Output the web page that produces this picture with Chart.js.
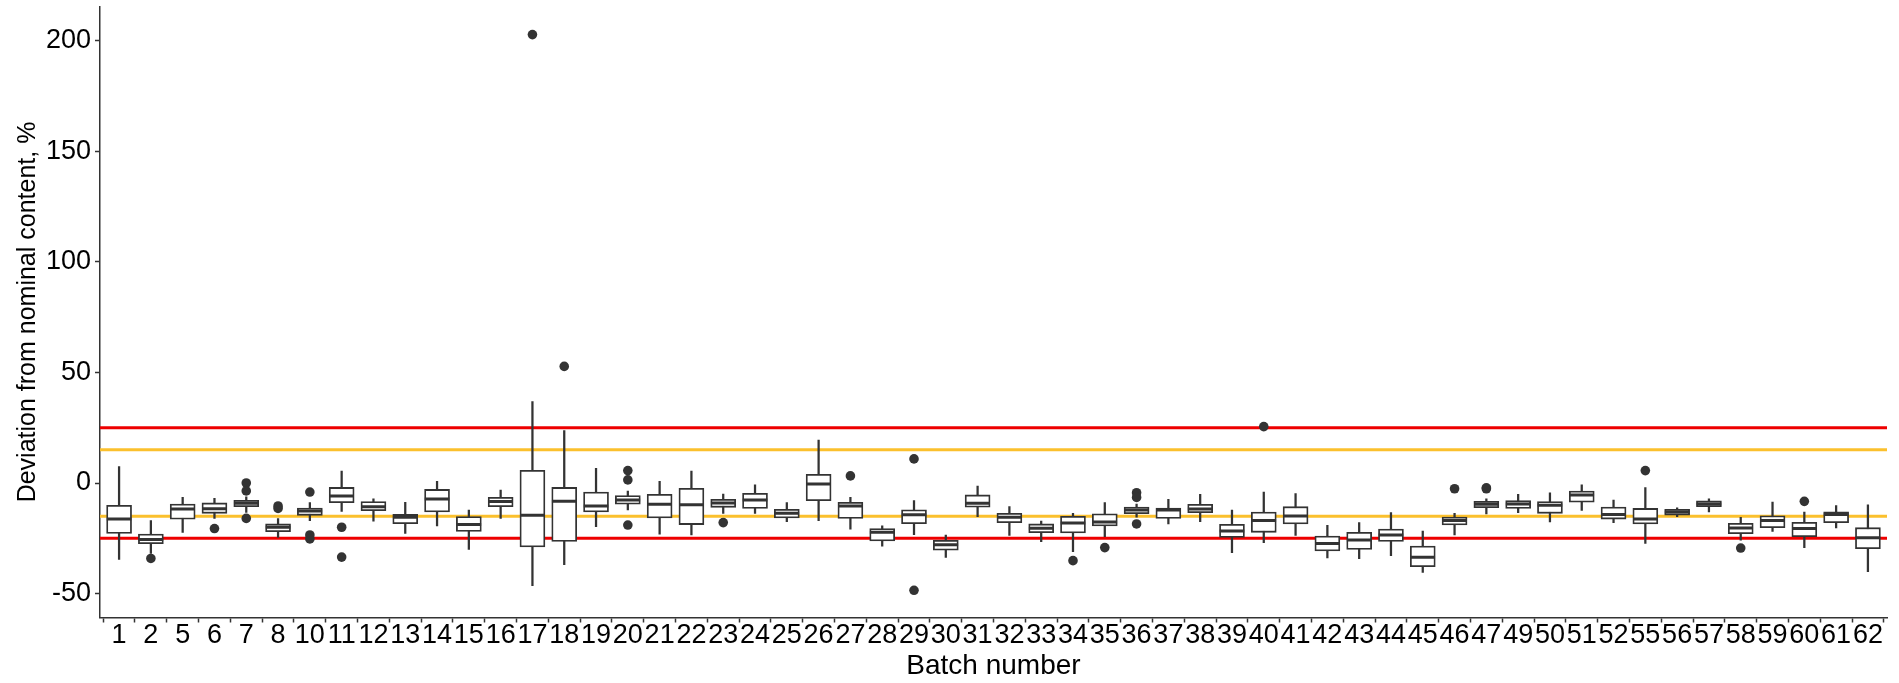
<!DOCTYPE html>
<html>
<head>
<meta charset="utf-8">
<script src="https://cdn.jsdelivr.net/npm/chart.js@4/dist/chart.umd.min.js"></script>
<style>
  html, body { margin: 0; padding: 0; background: #fff; }
  #wrap { width: 1899px; height: 683px; }
</style>
</head>
<body>
<div id="wrap"><canvas id="grafica" width="1899" height="683"></canvas></div>
<script>
// numeros de lote (eje x)
const batches = ["1","2","5","6","7","8","10","11","12","13","14","15","16","17","18","19","20","21","22","23","24","25","26","27","28","29","30","31","32","33","34","35","36","37","38","39","40","41","42","43","44","45","46","47","49","50","51","52","55","56","57","58","59","60","61","62"];

// bigotes y caja de cada lote, en %
const whiskerHigh = [7.4,-17.0,-6.5,-6.9,-6.2,-16.1,-8.9,5.4,-7.1,-8.7,0.8,-12.2,-3.2,36.8,23.7,6.6,-3.6,0.8,5.4,-5.0,-0.8,-8.9,19.4,-6.5,-19.4,-8.0,-23.5,-1.4,-10.7,-17.2,-13.7,-8.9,-9.5,-7.4,-5.1,-12.2,-4.1,-4.8,-19.1,-17.9,-13.4,-21.7,-13.7,-7.1,-5.1,-4.4,-0.8,-7.7,-2.1,-11.2,-7.1,-15.5,-8.6,-13.1,-10.2,-9.9];
const q3 = [-10.1,-23.1,-9.5,-9.0,-7.8,-18.5,-11.3,-2.0,-8.4,-14.2,-2.9,-15.2,-6.5,5.7,-2.0,-4.1,-5.7,-5.1,-2.4,-7.4,-4.7,-11.9,3.9,-8.7,-20.6,-12.1,-25.9,-5.4,-13.7,-18.5,-15.1,-13.9,-10.9,-11.3,-9.6,-18.7,-13.1,-10.7,-24.0,-22.3,-20.8,-28.5,-15.4,-8.3,-8.0,-8.4,-3.6,-10.9,-11.5,-11.9,-8.1,-18.2,-14.8,-17.8,-13.0,-20.2];
const median = [-16.3,-25.5,-11.8,-11.6,-9.2,-20.0,-12.7,-5.9,-10.7,-15.5,-7.2,-18.8,-8.4,-14.6,-8.3,-10.4,-7.7,-9.6,-9.8,-9.0,-7.7,-13.7,-0.5,-10.4,-22.3,-14.3,-27.9,-9.2,-15.5,-20.5,-18.1,-17.6,-12.2,-12.2,-11.8,-21.7,-16.9,-14.9,-27.3,-25.8,-23.5,-33.6,-16.9,-9.6,-9.5,-10.1,-5.4,-14.2,-16.3,-13.1,-9.5,-20.3,-17.0,-20.6,-14.2,-24.7];
const q1 = [-22.8,-27.4,-16.4,-13.7,-10.7,-22.0,-14.6,-8.9,-12.5,-18.4,-13.1,-21.9,-10.7,-28.9,-26.4,-13.1,-9.6,-15.8,-18.8,-11.0,-11.5,-15.8,-8.0,-16.0,-26.2,-18.4,-30.4,-10.9,-17.9,-22.5,-22.6,-19.4,-13.9,-16.0,-13.4,-24.6,-22.3,-18.5,-30.7,-30.0,-26.4,-37.8,-19.0,-11.2,-11.5,-13.7,-8.7,-16.3,-18.5,-14.5,-10.7,-22.9,-20.2,-24.3,-17.9,-29.7];
const whiskerLow = [-34.5,-31.8,-22.3,-16.0,-13.3,-24.6,-17.0,-12.8,-17.3,-22.8,-19.4,-30.0,-16.0,-46.4,-36.9,-19.7,-12.2,-23.1,-23.5,-13.7,-13.7,-17.5,-17.0,-20.9,-28.5,-23.4,-33.6,-15.2,-23.7,-26.5,-31.0,-24.3,-15.5,-18.5,-17.5,-31.5,-27.0,-23.7,-33.9,-34.2,-32.9,-40.4,-23.5,-14.0,-13.4,-17.6,-12.4,-17.9,-27.3,-15.2,-13.1,-25.8,-21.9,-29.2,-20.3,-40.1];

// valores atipicos: lote y valor
const outlierBatch = ["2","6","7","7","7","8","8","10","10","10","11","11","17","18","20","20","20","23","27","29","29","34","35","36","36","36","40","46","47","47","55","58","60"];
const outlierValue = [-34.1,-20.6,0.0,-3.6,-16.0,-10.4,-11.5,-4.1,-23.5,-25.3,-20.0,-33.5,202.7,52.7,5.6,1.4,-19.0,-17.9,3.2,10.9,-48.5,-35.1,-29.2,-4.4,-6.5,-18.5,25.5,-2.6,-2.6,-2.2,5.6,-29.4,-8.3];

// limites de tolerancia
const limitRed = [25, -25];
const limitOrange = [15, -15];
const yTicks = [-50, 0, 50, 100, 150, 200];

const idx = (b) => batches.indexOf(b);

// lineas horizontales dibujadas con la escala y, debajo de las cajas
const limites = {
  id: "limites",
  beforeDatasetsDraw(chart) {
    const { ctx, chartArea, scales } = chart;
    const dibujar = (vals, color) => {
      vals.forEach((v) => {
        const y = scales.y.getPixelForValue(v);
        ctx.save();
        ctx.strokeStyle = color;
        ctx.lineWidth = 3;
        ctx.beginPath();
        ctx.moveTo(chartArea.left, y);
        ctx.lineTo(chartArea.right, y);
        ctx.stroke();
        ctx.restore();
      });
    };
    dibujar(limitOrange, "#fbc02d");
    dibujar(limitRed, "#ee0000");
  },
};

const fuente = "'Liberation Sans', Arial, sans-serif";
const gris = "#333333";

const data = {
  datasets: [
    {
      type: "scatter",
      label: "outliers",
      order: 0,
      data: outlierBatch.map((b, i) => ({ x: idx(b), y: outlierValue[i] })),
      pointRadius: 4.8,
      pointHoverRadius: 4.8,
      backgroundColor: gris,
      borderWidth: 0,
    },
    {
      type: "scatter",
      label: "median",
      order: 1,
      data: median.map((m, i) => ({ x: i, y: m })),
      pointStyle: "line",
      pointRadius: 12.3,
      pointHoverRadius: 12.3,
      borderColor: gris,
      borderWidth: 3,
    },
    {
      type: "bar",
      label: "box",
      order: 2,
      grouped: false,
      data: q1.map((v, i) => ({ x: i, y: [v, q3[i]] })),
      backgroundColor: "#ffffff",
      borderColor: gris,
      borderWidth: 1.8,
      borderSkipped: false,
      barThickness: 25,
    },
    {
      type: "bar",
      label: "whisker",
      order: 3,
      grouped: false,
      data: whiskerLow.map((v, i) => ({ x: i, y: [v, whiskerHigh[i]] })),
      backgroundColor: gris,
      borderWidth: 0,
      barThickness: 1.6,
    },
  ],
};

const config = {
  type: "bar",
  data: data,
  plugins: [limites],
  options: {
    responsive: false,
    animation: false,
    layout: { autoPadding: false, padding: { left: 0, right: 12, top: 6.5, bottom: 0 } },
    plugins: { legend: { display: false }, tooltip: { enabled: false } },
    scales: {
      x: {
        type: "linear",
        offset: false,
        min: -0.6,
        max: batches.length - 0.4,
        afterBuildTicks: (s) => { s.ticks = batches.map((b, i) => ({ value: i })); },
        afterFit: (s) => { s.height = 65.5; s.paddingLeft = 0; s.paddingRight = 0; },
        border: { color: gris, width: 1.5 },
        grid: { display: true, drawOnChartArea: false, tickLength: 5, color: gris, tickWidth: 1.5 },
        ticks: {
          autoSkip: false,
          maxRotation: 0,
          padding: -3,
          color: "#000",
          font: { family: fuente, size: 27 },
          callback: (v) => batches[v],
        },
        title: {
          display: true,
          text: "Batch number",
          color: "#000",
          font: { family: fuente, size: 28 },
          padding: { top: 0, bottom: 0 },
        },
      },
      y: {
        min: -60.8,
        max: 215.4,
        afterBuildTicks: (s) => { s.ticks = yTicks.map((v) => ({ value: v })); },
        afterFit: (s) => { s.width = 100; s.paddingTop = 0; s.paddingBottom = 0; },
        border: { color: gris, width: 1.5 },
        grid: { display: true, drawOnChartArea: false, tickLength: 5, color: gris, tickWidth: 1.5 },
        ticks: {
          padding: 4,
          color: "#000",
          font: { family: fuente, size: 27 },
        },
        title: {
          display: true,
          text: "Deviation from nominal content, %",
          color: "#000",
          font: { family: fuente, size: 25 },
          padding: { top: 13, bottom: 0 },
        },
      },
    },
  },
};

new Chart(document.getElementById("grafica"), config);
</script>
</body>
</html>
